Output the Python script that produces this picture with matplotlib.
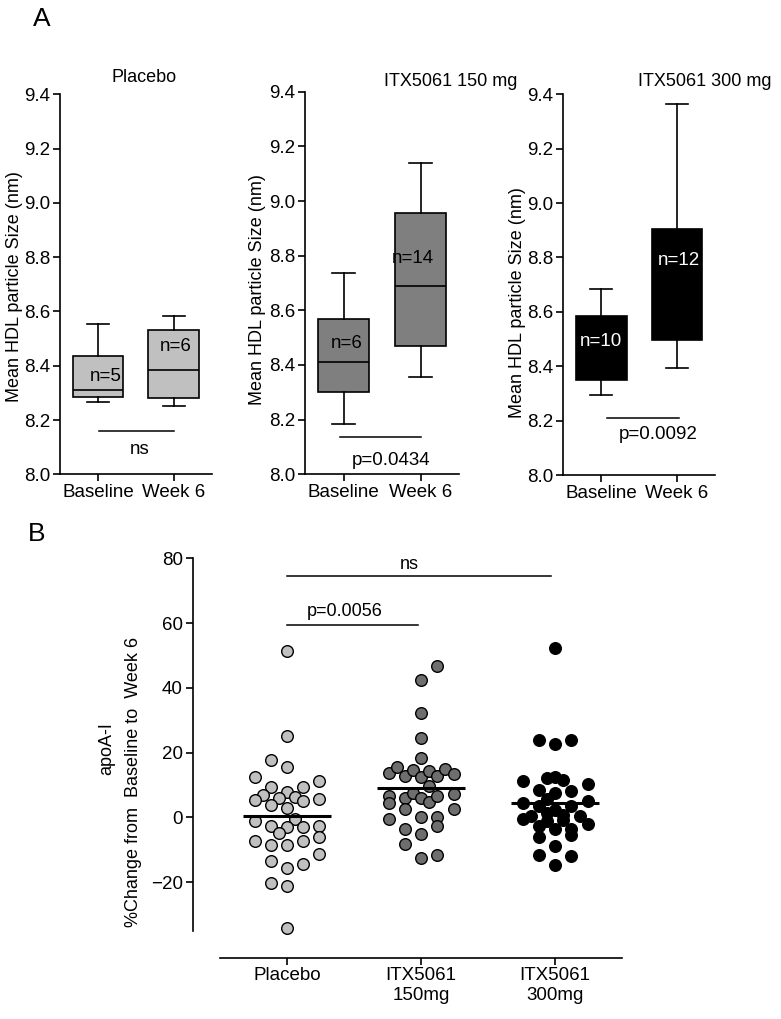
import matplotlib
matplotlib.use('Agg')
import matplotlib.pyplot as plt
import numpy as np

plt.rcParams['font.family'] = ['Liberation Sans', 'DejaVu Sans']
plt.rcParams['font.size'] = 13

##### data #####
# panel A: box stats (whislo, q1, med, q3, whishi)
box_titles = ["Placebo", "ITX5061 150 mg", "ITX5061 300 mg"]
box_cats = ["Baseline", "Week 6"]
placebo_base = [8.265, 8.285, 8.31, 8.435, 8.555]
placebo_wk6 = [8.25, 8.28, 8.385, 8.53, 8.585]
mg150_base = [8.185, 8.30, 8.41, 8.57, 8.735]
mg150_wk6 = [8.355, 8.47, 8.69, 8.955, 9.14]
mg300_base = [8.295, 8.35, 8.46, 8.585, 8.685]
mg300_wk6 = [8.395, 8.495, 8.70, 8.905, 9.365]
box_n = [["n=5", "n=6"], ["n=6", "n=14"], ["n=10", "n=12"]]
box_p = ["ns", "p=0.0434", "p=0.0092"]

# panel B: % change in apoA-I, value and swarm slot
grp_names = ["Placebo", "ITX5061\n150mg", "ITX5061\n300mg"]
pl_vals = [51.5, 25, 17.8, 15.5, 12.5, 11.4, 9.4, 9.4, 7.8, 6.8, 6.0, 6.2, 5.5, 5.2, 5.8,
           3.9, 2.9, -0.5, -1.2, -2.6, -2.8, -2.8, -2.5, -4.8, -5.9, -7.2, -8.4, -8.6,
           -7.4, -11.2, -13.3, -15.6, -14.4, -20.1, -21.1, -34.2]
pl_slot = [0, 0, -2, 0, -4, 4, -2, 2, 0, -3, -1, 1, -4, 2, 4,
           -2, 0, 1, -4, -2, 0, 2, 4, -1, 4, -4, -2, 0,
           2, 4, -2, 0, 2, -2, 0, 0]
m150_vals = [46.9, 42.3, 32.1, 24.5, 18.4, 13.7, 15.6, 12.7, 14.5, 12.5, 14.2, 12.7, 15.0,
             13.5, 9.6, 6.5, 4.5, 6.0, 7.5, 6.0, 4.9, 6.5, 7.2, 2.6, 2.7, -0.5, 0.1, 0.1,
             -2.6, -3.6, -5.1, -8.2, -12.6, -11.5]
m150_slot = [2, 0, 0, 0, 0, -4, -3, -2, -1, 0, 1, 2, 3,
             4, 1, -4, -4, -2, -1, 0, 1, 2, 4, -2, 4, -4, 0, 2,
             2, -2, 0, -2, 0, 2]
m300_vals = [52.4, 24.0, 22.7, 23.8, 12.2, 12.5, 11.7, 11.1, 10.4, 8.6, 8.3, 7.5, 5.7, 4.6,
             5.2, 3.6, 3.6, 2.4, 1.4, 0.8, -0.5, 0.3, 0.3, -1.9, -2.6, -3.6, -3.6, -0.8,
             -1.2, -5.3, -6.1, -8.7, -11.5, -12.0, -14.6]
m300_slot = [0, -2, 0, 2, -1, 0, 1, -4, 4, -2, 2, 0, -1, -4,
             4, -2, 2, 0, -1, 1, -4, -3, 3, 4, -2, 0, 2, 1,
             -1, 2, -2, 0, -2, 2, 0]
grp_median = [0.3, 9.1, 4.45]
##### data end #####

W, H = 781, 1019
fig = plt.figure(figsize=(W / 100, H / 100), dpi=100)


def px_axes(x0, x1, ytop, ybot):
    return fig.add_axes([x0 / W, 1 - ybot / H, (x1 - x0) / W, (ybot - ytop) / H])


def style(ax):
    for s in ['top', 'right']:
        ax.spines[s].set_visible(False)
    for s in ['left', 'bottom']:
        ax.spines[s].set_linewidth(1.2)
    ax.tick_params(direction='out', length=5, width=1.2, pad=2, labelsize=13.5)


# ---------- panel A ----------
boxes = [(placebo_base, placebo_wk6), (mg150_base, mg150_wk6), (mg300_base, mg300_wk6)]
face = ['#c0c0c0', '#7f7f7f', 'black']
txtc = ['black', 'black', 'white']
ax_px = [(60, 211.7, 94.3, 474.3), (305, 459, 91.7, 474.3), (563.3, 715, 94.3, 475)]
title_px = [(144, 77), (451, 82), (705, 81)]
ylab_px = [(15, 287), (258, 290), (517, 303)]
n_pos = [[(1.10, 8.36), (2.03, 8.47)], [(1.04, 8.48), (1.9, 8.79)], [(1.0, 8.49), (2.02, 8.79)]]
sig = [(8.16, 1.02, 2.0, 1.55, 8.09), (8.135, 0.95, 2.0, 1.62, 8.05), (8.21, 1.07, 2.03, 1.75, 8.15)]

for i in range(3):
    ax = px_axes(*ax_px[i])
    stats = []
    for b, lab in zip(boxes[i], box_cats):
        stats.append(dict(whislo=b[0], q1=b[1], med=b[2], q3=b[3], whishi=b[4], label=lab))
    ax.bxp(stats, positions=[1, 2], widths=0.67, capwidths=0.29, showfliers=False,
           patch_artist=True,
           boxprops=dict(facecolor=face[i], edgecolor='black', linewidth=1.2),
           medianprops=dict(color='black', linewidth=1.2),
           whiskerprops=dict(color='black', linewidth=1.2),
           capprops=dict(color='black', linewidth=1.2))
    ax.set_xlim(0.5, 2.5)
    ax.set_ylim(8.0, 9.4)
    ax.set_yticks(np.arange(8.0, 9.41, 0.2))
    ax.set_yticklabels(['%.1f' % v for v in np.arange(8.0, 9.41, 0.2)])
    style(ax)
    for j in range(2):
        ax.text(n_pos[i][j][0], n_pos[i][j][1], box_n[i][j], color=txtc[i],
                ha='center', va='center', fontsize=13.5)
    ly, lx0, lx1, tx, ty = sig[i]
    ax.plot([lx0, lx1], [ly, ly], color='black', lw=1.1, clip_on=False)
    ax.text(tx, ty, box_p[i], ha='center', va='center', fontsize=13.5)
    fig.text(title_px[i][0] / W, 1 - title_px[i][1] / H, box_titles[i],
             ha='center', va='center', fontsize=13)
    fig.text(ylab_px[i][0] / W, 1 - ylab_px[i][1] / H, "Mean HDL particle Size (nm)",
             rotation=90, ha='center', va='center', fontsize=13)

fig.text(42 / W, 1 - 19 / H, "A", ha='center', va='center', fontsize=19)
fig.text(37 / W, 1 - 534 / H, "B", ha='center', va='center', fontsize=19)

# ---------- panel B ----------
axb = px_axes(192.7, 622.3, 558.3, 957.7)
step = 0.0605
groups = [(pl_vals, pl_slot, '#c0c0c0'), (m150_vals, m150_slot, '#6e6e6e'),
          (m300_vals, m300_slot, 'black')]
for k, (vals, slot, col) in enumerate(groups):
    xs = k + 1 + np.array(slot) * step
    axb.scatter(xs, vals, s=70, c=col, edgecolors='black', linewidths=1.0,
                zorder=3, clip_on=False)
    axb.hlines(grp_median[k], k + 1 - 0.33, k + 1 + 0.33, color='black', lw=2.2, zorder=4)

axb.set_xlim(0.297, 3.5)
axb.set_ylim(-43.3, 80)
axb.set_yticks([-20, 0, 20, 40, 60, 80])
axb.set_xticks([1, 2, 3])
axb.set_xticklabels(grp_names)
style(axb)
axb.spines['left'].set_bounds(-35, 80)
axb.spines['bottom'].set_bounds(0.5, 3.5)

axb.plot([1, 2.97], [74.5, 74.5], color='black', lw=1.1)
axb.text(1.91, 78.2, "ns", ha='center', va='center', fontsize=13)
axb.plot([1, 1.98], [59.5, 59.5], color='black', lw=1.1)
axb.text(1.43, 63.6, "p=0.0056", ha='center', va='center', fontsize=13)

fig.text(107 / W, 1 - 748.5 / H, "apoA-I", rotation=90, ha='center', va='center', fontsize=13)
fig.text(133 / W, 1 - 781.5 / H, "%Change from  Baseline to  Week 6", rotation=90,
         ha='center', va='center', fontsize=13)

plt.savefig("out.png", dpi=100)
